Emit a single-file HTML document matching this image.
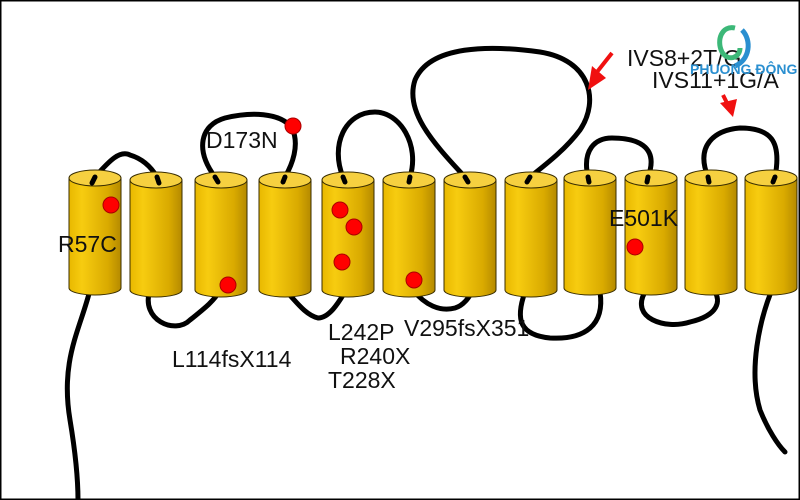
<!DOCTYPE html>
<html><head><meta charset="utf-8"><style>
html,body{margin:0;padding:0;background:#fff}
svg{display:block}
text{font-family:"Liberation Sans",sans-serif;font-size:23px;fill:#111}
</style></head><body>
<svg width="800" height="500" viewBox="0 0 800 500" xmlns="http://www.w3.org/2000/svg">
<defs>
<linearGradient id="g" x1="0" x2="1" y1="0" y2="0">
<stop offset="0" stop-color="#e8b800"/><stop offset="0.25" stop-color="#f7cc10"/><stop offset="0.75" stop-color="#d9aa00"/><stop offset="1" stop-color="#b58a00"/>
</linearGradient>
<g id="c" stroke="#3a2e00" stroke-width="1">
<path d="M0 0 L0 110 A26 7 0 0 0 52 110 L52 0 Z" fill="url(#g)"/>
<ellipse cx="26" cy="0" rx="26" ry="8" fill="#f6d040"/>
</g>
</defs>
<rect x="0.5" y="0.5" width="799" height="499" fill="#fff" stroke="#000" stroke-width="2"/>
<g fill="none" stroke="#000" stroke-width="5" stroke-linecap="round">
<path d="M90 290 C80 330 60 360 70 420 C75 450 78 480 78 500"/>
<path d="M95 177 C110 160 120 150 130 155 C140 158 150 165 157 177"/>
<path d="M215 177 C195 150 200 125 225 118 C250 112 280 112 292 128 C300 145 292 165 285 177"/>
<path d="M343 177 C330 145 345 112 375 112 C400 112 420 145 410 177"/>
<path d="M465 177 C430 140 405 110 415 80 C430 45 490 45 540 52 C590 60 600 100 580 130 C565 150 545 165 530 177"/>
<path d="M588 177 C582 150 595 138 612 138 C635 138 660 145 648 177"/>
<path d="M708 177 C695 145 715 130 740 128 C770 128 782 140 775 177"/>
<path d="M150 290 C140 320 175 335 190 320 C205 308 215 300 220 290"/>
<path d="M285 290 C295 300 305 315 318 318 C330 318 340 300 345 292"/>
<path d="M413 290 C425 305 440 312 455 308 C465 305 470 295 472 292"/>
<path d="M525 292 C515 320 520 335 550 338 C585 340 605 325 600 292"/>
<path d="M645 292 C630 318 665 330 690 322 C720 315 720 300 715 292"/>
<path d="M771 292 C760 320 748 370 760 410 C768 430 778 445 785 452"/>
</g>
<use href="#c" x="69" y="178"/>
<use href="#c" x="130" y="180"/>
<use href="#c" x="195" y="180"/>
<use href="#c" x="259" y="180"/>
<use href="#c" x="322" y="180"/>
<use href="#c" x="383" y="180"/>
<use href="#c" x="444" y="180"/>
<use href="#c" x="505" y="180"/>
<use href="#c" x="564" y="178"/>
<use href="#c" x="625" y="178"/>
<use href="#c" x="685" y="178"/>
<use href="#c" x="745" y="178"/>
<g fill="none" stroke="#000" stroke-width="5" stroke-linecap="round">
<path d="M95 177 l-3 6"/><path d="M157 177 l2 6"/><path d="M215 177 l3 5"/><path d="M285 177 l-2 5"/>
<path d="M343 177 l2 5"/><path d="M410 177 l-1 5"/><path d="M465 177 l3 5"/><path d="M530 177 l-3 5"/>
<path d="M588 177 l1 5"/><path d="M648 177 l-1 5"/><path d="M708 177 l1 5"/><path d="M775 177 l-2 5"/>
</g>
<g fill="#f00" stroke="#a00" stroke-width="1">
<circle cx="111" cy="205" r="8"/><circle cx="228" cy="285" r="8"/><circle cx="293" cy="126" r="8"/>
<circle cx="340" cy="210" r="8"/><circle cx="354" cy="227" r="8"/><circle cx="342" cy="262" r="8"/>
<circle cx="414" cy="280" r="8"/><circle cx="635" cy="247" r="8"/>
</g>
<g fill="#f01010">
<path d="M612 53 L597 72" stroke="#f01010" stroke-width="4"/>
<polygon points="588,90 592,66 606,78"/>
<path d="M723 95 L728 105" stroke="#f01010" stroke-width="4"/>
<polygon points="733,117 720,103 737,99"/>
</g>
<text x="58" y="252">R57C</text>
<text x="206" y="148">D173N</text>
<text x="172" y="367">L114fsX114</text>
<text x="328" y="340">L242P</text>
<text x="340" y="364">R240X</text>
<text x="328" y="388">T228X</text>
<text x="404" y="336">V295fsX351</text>
<text x="609" y="226">E501K</text>
<text x="627" y="66">IVS8+2T/G</text>
<text x="652" y="88">IVS11+1G/A</text>
<g fill="none" stroke-width="5">
<path d="M735 28 C722 25 716 40 722 52 C728 62 740 58 740 48" stroke="#3cb878"/>
<path d="M742 30 C752 40 750 60 735 66" stroke="#2a8fd0"/>
</g>
<text x="690" y="74" style="font-size:14px;fill:#2a8fd0;font-weight:bold">PHUONG ĐÔNG</text>
</svg>
</body></html>
